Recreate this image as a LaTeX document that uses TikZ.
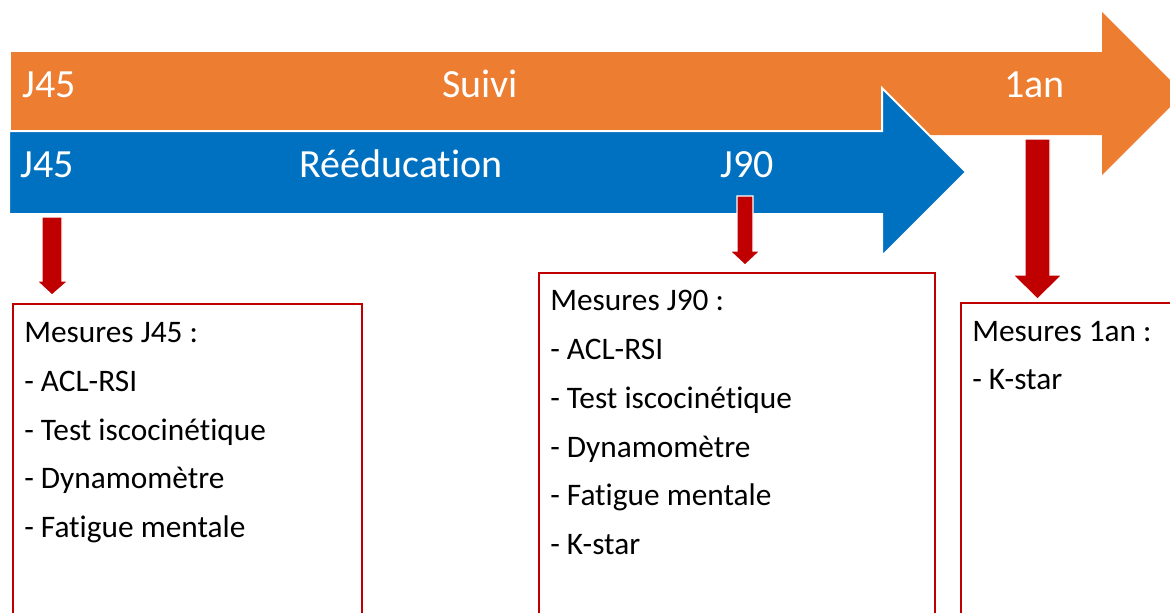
\documentclass[tikz,border=0pt]{standalone}
\usepackage{fontspec}
\setmainfont{Carlito}[Ligatures={NoCommon}]
\usepackage{xcolor}
\usepackage{tikz}
\usetikzlibrary{positioning}

\definecolor{suiviorange}{HTML}{ED7D31}
\definecolor{reedublue}{HTML}{0070C0}
\definecolor{mesred}{HTML}{C00000}

\begin{document}
\begin{tikzpicture}[x=0.75pt,y=-0.75pt,
    banner/.style={text=white,font=\fontsize{30}{36}\selectfont,inner sep=0pt,anchor=base west},
    item/.style={text=black,font=\fontsize{23.5}{28}\selectfont,inner sep=0pt,anchor=base west},
    mesbox/.style={draw=mesred,line width=1.6pt},
    downarrow/.style={fill=mesred,draw=white,line width=0.8pt}]
  \clip (0,0) rectangle (1170,612);
  % orange arrow: follow-up until one year
  \fill[suiviorange] (11,52) -- (1102,52) -- (1102,12) -- (1183.5,93.5)
        -- (1102,175) -- (1102,135) -- (11,135) -- cycle;
  % blue arrow: rehabilitation J45 to J90
  \filldraw[fill=reedublue,draw=white,line width=1.5pt] (9,131) -- (882,131) -- (882,88)
        -- (966,172) -- (882,256) -- (882,214) -- (9,214) -- cycle;
  \node[banner] (sJ45) at (22,97) {J45};
  \node[banner,anchor=base] (suivi) at (480,97) {Suivi};
  \node[banner] (s1an) at (1004,97) {1an};
  \node[banner] (rJ45) at (20,177) {J45};
  \node[banner,anchor=base] (reedu) at (401,177) {Rééducation};
  \node[banner] (rJ90) at (720,177) {J90};
  % red arrows down to the measures
  \filldraw[downarrow] (42,217) -- (62,217) -- (62,281) -- (68,281) -- (52,295)
        -- (37,281) -- (42,281) -- cycle;
  \filldraw[downarrow] (737,196) -- (753,196) -- (753,251) -- (760,251) -- (745,265)
        -- (730,251) -- (737,251) -- cycle;
  \filldraw[downarrow] (1025,139) -- (1050,139) -- (1050,275) -- (1062,275) -- (1037.5,299)
        -- (1013,275) -- (1025,275) -- cycle;
  % measure boxes
  \draw[mesbox] (13,304) rectangle (362,660);
  \draw[mesbox] (539,273) rectangle (935,660);
  \draw[mesbox] (961,303) rectangle (1220,660);
  \node[item] (m45) at (24,342) {Mesures J45 :};
  \node[item] (m45a) at (24,391) {- ACL-RSI};
  \node[item] (m45b) at (24,440) {- Test iscocinétique};
  \node[item] (m45c) at (24,488) {- Dynamomètre};
  \node[item] (m45d) at (24,537) {- Fatigue mentale};
  \node[item] (m90) at (550,310) {Mesures J90 :};
  \node[item] (m90a) at (550,359) {- ACL-RSI};
  \node[item] (m90b) at (550,408) {- Test iscocinétique};
  \node[item] (m90c) at (550,457) {- Dynamomètre};
  \node[item] (m90d) at (550,505) {- Fatigue mentale};
  \node[item] (m90e) at (550,554) {- K-star};
  \node[item] (m1an) at (972,341) {Mesures 1an :};
  \node[item] (m1ana) at (972,389) {- K-star};
\end{tikzpicture}
\end{document}
